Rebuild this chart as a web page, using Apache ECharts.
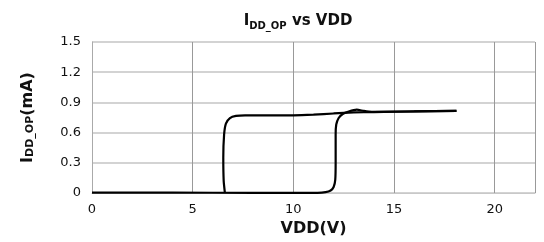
<!DOCTYPE html>
<html><head><meta charset="utf-8">
<script src="https://cdn.jsdelivr.net/npm/echarts@6/dist/echarts.min.js"></script>
<style>html,body{margin:0;padding:0;background:#fff}#c{width:544px;height:242px}</style>
</head><body><div id="c"></div>
<script>
// Up sweep (VDD increasing): off until ~12.1 V, then turns on
var upX = [0, 4, 8, 11.2, 11.6, 11.85, 12.0, 12.08, 12.1, 12.1, 12.13, 12.25, 12.45, 12.75, 13.15, 13.5, 13.9, 16, 18.1];
var upY = [0.004, 0.003, 0.002, 0.002, 0.008, 0.025, 0.06, 0.13, 0.3, 0.58, 0.68, 0.745, 0.785, 0.81, 0.828, 0.815, 0.806, 0.81, 0.816];
// Down sweep (VDD decreasing): stays on until ~6.6 V, then turns off
var downX = [18.1, 16, 14, 13, 12, 11, 10, 8.5, 7.6, 7.15, 6.85, 6.65, 6.56, 6.52, 6.54, 6.6];
var downY = [0.816, 0.81, 0.804, 0.8, 0.79, 0.778, 0.772, 0.772, 0.772, 0.766, 0.745, 0.69, 0.58, 0.35, 0.12, 0.0];
var xTicks = [0, 5, 10, 15, 20];
var yTicks = [0, 0.3, 0.6, 0.9, 1.2, 1.5];

function pairs(xs, ys){ return xs.map(function(x,i){ return [x, ys[i]]; }); }
var FONT = 'DejaVu Sans';
var chart = echarts.init(document.getElementById('c'), null, {renderer:'canvas'});
chart.setOption({
  animation:false,
  backgroundColor:'#fff',
  title:{
    text:'{a|I}{b|DD_OP}{a| vs VDD}',
    left:293, top:9, textAlign:'center',
    textStyle:{rich:{
      a:{fontFamily:FONT, fontWeight:'bold', fontSize:15, color:'#111', verticalAlign:'bottom'},
      b:{fontFamily:FONT, fontWeight:'bold', fontSize:10, color:'#111', verticalAlign:'bottom', padding:[0,0,-2,0]}
    }}
  },
  grid:{left:92, right:9, top:42, bottom:48},
  xAxis:{
    type:'value', min:0, max:22, interval:5,
    name:'VDD(V)', nameLocation:'middle', nameGap:28,
    nameTextStyle:{fontFamily:FONT, fontWeight:'bold', fontSize:16, color:'#111'},
    axisLine:{show:true, lineStyle:{color:'#c8c8c8', width:1}},
    axisTick:{show:false},
    axisLabel:{fontFamily:FONT, fontSize:13, color:'#111', margin:10,
      formatter:function(v){ return xTicks.indexOf(v)>=0 ? String(v) : ''; }},
    splitLine:{show:true, lineStyle:{color:'#999', width:1}}
  },
  yAxis:{
    type:'value', min:0, max:1.5, interval:0.3,
    name:'{a|I}{b|DD_OP}{a|(mA)}', nameLocation:'middle', nameGap:56, nameRotate:90,
    nameTextStyle:{rich:{
      a:{fontFamily:FONT, fontWeight:'bold', fontSize:16, color:'#111', verticalAlign:'bottom'},
      b:{fontFamily:FONT, fontWeight:'bold', fontSize:11, color:'#111', verticalAlign:'bottom'}
    }},
    axisLine:{show:true, lineStyle:{color:'#aaa', width:1}},
    axisTick:{show:false},
    axisLabel:{fontFamily:FONT, fontSize:13, color:'#111', margin:11,
      formatter:function(v){ var r=Math.round(v*10)/10; return yTicks.indexOf(r)<0?'':(r===0?'0':r.toFixed(1)); }},
    splitLine:{show:true, lineStyle:{color:'#c4c4c4', width:1.5}}
  },
  series:[
    {type:'line', data:pairs(upX, upY), showSymbol:false, smooth:0.2,
     lineStyle:{color:'#000', width:2.2}},
    {type:'line', data:pairs(downX, downY), showSymbol:false, smooth:0.2,
     lineStyle:{color:'#000', width:2.2}}
  ]
});
</script></body></html>
